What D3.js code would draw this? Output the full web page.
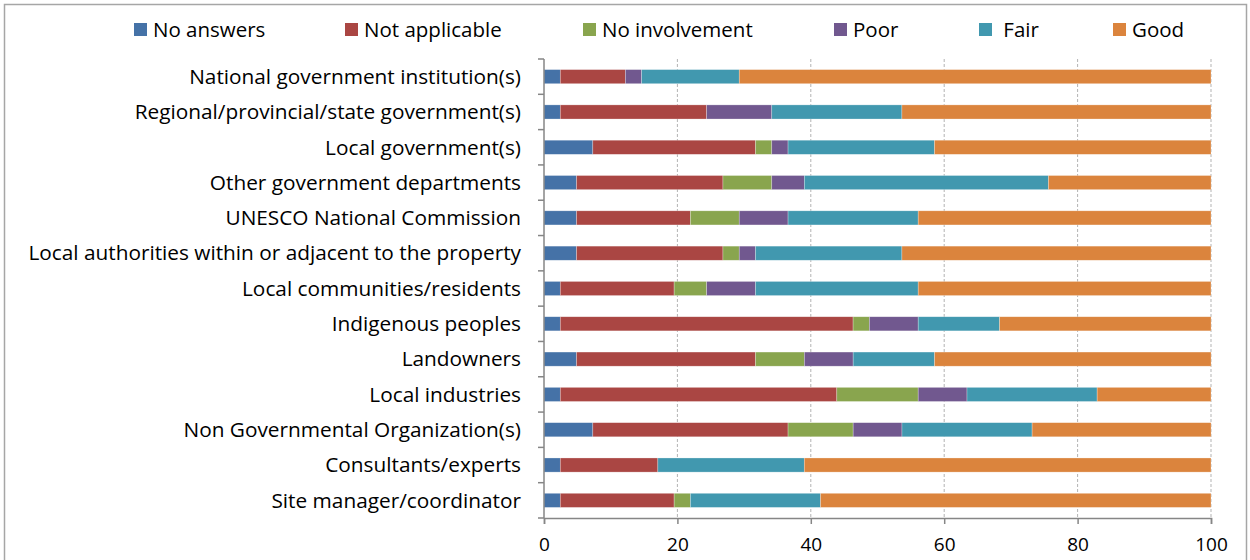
<!DOCTYPE html>
<html><head><meta charset="utf-8">
<script src="https://cdn.jsdelivr.net/npm/d3@7"></script>
<style>body{margin:0;background:#fff}svg{display:block}</style>
</head><body><svg id="c" width="1250" height="560"></svg>
<script>
const categories = ["National government institution(s)","Regional/provincial/state government(s)","Local government(s)","Other government departments","UNESCO National Commission","Local authorities within or adjacent to the property","Local communities/residents","Indigenous peoples","Landowners","Local industries","Non Governmental Organization(s)","Consultants/experts","Site manager/coordinator"];
const seriesNames = ["No answers","Not applicable","No involvement","Poor","Fair","Good"];
const legendLabels = ["No answers","Not applicable","No involvement","Poor"," Fair","Good"];
const colors = ["#4572A7","#AA4643","#89A54E","#71588F","#4198AF","#DB843D"];
const noAnswers     = [2.44,2.44,7.32,4.88,4.88,4.88,2.44,2.44,4.88,2.44,7.32,2.44,2.44];
const notApplicable = [9.76,21.95,24.39,21.95,17.07,21.95,17.07,43.90,26.83,41.46,29.27,14.63,17.07];
const noInvolvement = [0,0,2.44,7.32,7.32,2.44,4.88,2.44,7.32,12.20,9.76,0,2.44];
const poor          = [2.44,9.76,2.44,4.88,7.32,2.44,7.32,7.32,7.32,7.32,7.32,0,0];
const fair          = [14.63,19.51,21.95,36.59,19.51,21.95,24.39,12.20,12.20,19.51,19.51,21.95,19.51];
const good          = [70.73,46.34,41.46,24.39,43.90,46.34,43.90,31.71,41.46,17.07,26.83,60.98,58.54];
const xTicks = [0,20,40,60,80,100];

const seriesValues = [noAnswers,notApplicable,noInvolvement,poor,fair,good];
const rows = categories.map((c,i)=>{const o={cat:c}; seriesNames.forEach((s,j)=>o[s]=seriesValues[j][i]); return o;});
const stack = d3.stack().keys(seriesNames)(rows);

const svg = d3.select("#c");
const font = "'Open Sans', sans-serif";
svg.append("rect").attr("x",4.5).attr("y",4.5).attr("width",1242).attr("height",570)
  .attr("fill","none").attr("stroke","#a6a6a6").attr("stroke-width",1.5);

const L=544, R=1211, T=59, B=518;
const x = d3.scaleLinear().domain([0,100]).range([L,R]);
const y = d3.scaleBand().domain(categories).range([T,B]).paddingInner(0.6).paddingOuter(0.3);

// gridlines
svg.append("g").selectAll("line").data(xTicks.slice(1)).join("line")
  .attr("x1",d=>x(d)).attr("x2",d=>x(d)).attr("y1",T).attr("y2",B)
  .attr("stroke","#b3b3b3").attr("stroke-dasharray","3,2").attr("stroke-width",1);

// bars
svg.append("g").selectAll("g").data(stack).join("g")
  .attr("fill",(d,i)=>colors[i])
  .selectAll("rect").data(d=>d).join("rect")
  .attr("x",d=>x(d[0])).attr("width",d=>Math.max(0,x(d[1])-x(d[0])))
  .attr("y",d=>y(d.data.cat)).attr("height",y.bandwidth())
  .attr("stroke","rgba(255,255,255,0.45)").attr("stroke-width",0.6);

// x axis
const xa = svg.append("g").attr("transform",`translate(0,${B})`)
  .call(d3.axisBottom(x).tickValues(xTicks).tickSize(6).tickPadding(14).tickFormat(d3.format("d")));
xa.select(".domain").attr("stroke","#868686").attr("stroke-width",1.5);
xa.selectAll(".tick line").attr("stroke","#868686").attr("stroke-width",1.5);
xa.selectAll("text").attr("font-family",font).attr("font-size",19).attr("fill","#000");

// y axis
const yEdges = d3.range(categories.length+1).map(i=>T+i*(B-T)/categories.length);
svg.append("line").attr("x1",L).attr("x2",L).attr("y1",T).attr("y2",B).attr("stroke","#868686").attr("stroke-width",1.5);
svg.append("g").selectAll("line").data(yEdges).join("line")
  .attr("x1",L-6).attr("x2",L).attr("y1",d=>d).attr("y2",d=>d).attr("stroke","#868686").attr("stroke-width",1.5);
svg.append("g").selectAll("text").data(categories).join("text")
  .attr("x",521).attr("y",d=>y(d)+y.bandwidth()/2).attr("dy","0.35em")
  .attr("text-anchor","end").attr("font-family",font).attr("font-size",20.8).attr("fill","#000").text(d=>d);

// legend
const legX = [134,345,583,834,979,1113];
const lg = svg.append("g").selectAll("g").data(seriesNames).join("g")
  .attr("transform",(d,i)=>`translate(${legX[i]},23)`);
lg.append("rect").attr("width",13).attr("height",13).attr("fill",(d,i)=>colors[i]);
lg.append("text").attr("x",19).attr("y",6.5).attr("dy","0.35em").attr("font-family",font)
  .attr("font-size",20.5).attr("fill","#000").attr("xml:space","preserve").style("white-space","pre")
  .text((d,i)=>legendLabels[i]);
</script></body></html>
